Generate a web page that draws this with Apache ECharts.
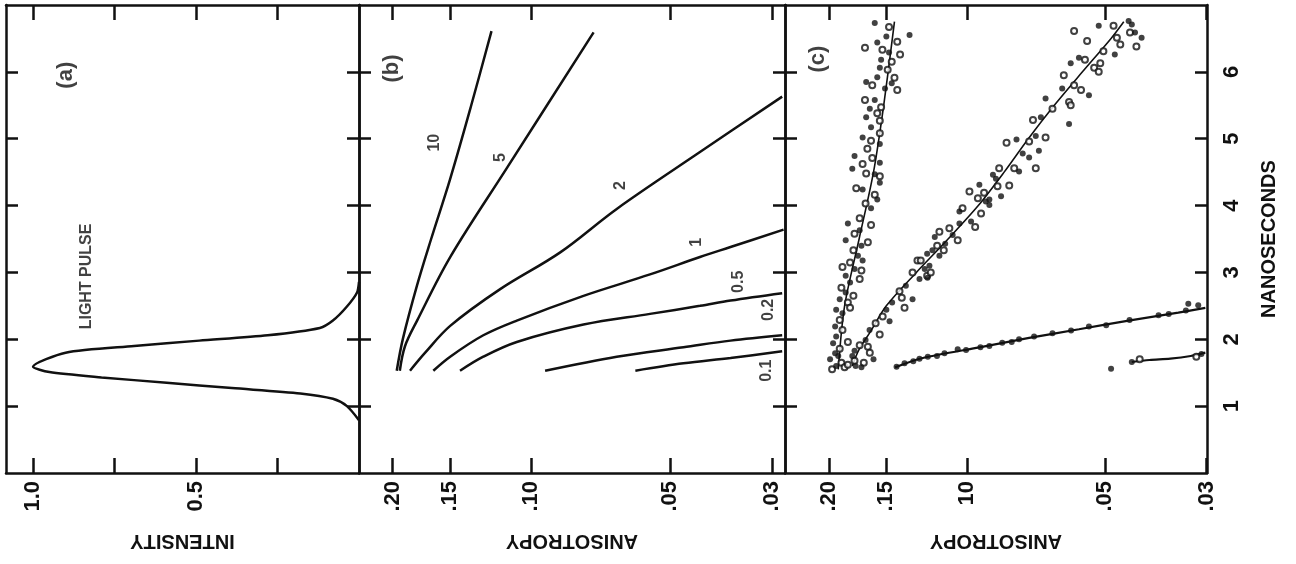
<!DOCTYPE html>
<html>
<head>
<meta charset="utf-8">
<script src="https://cdn.jsdelivr.net/npm/echarts@6/dist/echarts.min.js"></script>
<style>
html, body { margin: 0; padding: 0; background: #fff; }
#chart { width: 1296px; height: 564px; }
</style>
</head>
<body>
<div id="chart"></div>
<script>
// time axis (nanoseconds), shared by the three panels
var nsTicks = [1, 2, 3, 4, 5, 6];

// (a) light pulse: time / relative intensity
var pulseT = [0.79, 1.0, 1.11, 1.19, 1.27, 1.35, 1.43, 1.51, 1.59, 1.80, 1.90, 1.98, 2.06, 2.17, 2.28, 2.49, 2.70, 2.86];
var pulseI = [0, 0.037, 0.08, 0.18, 0.39, 0.59, 0.79, 0.95, 1.0, 0.90, 0.69, 0.49, 0.28, 0.12, 0.08, 0.037, 0.006, 0];
var intensityTicks = [0.25, 0.5, 0.75, 1.0];
var intensityLabels = [0.5, 1.0];

// anisotropy (log) ticks
var anisoTicks = [0.03, 0.05, 0.10, 0.15, 0.20];
var anisoLabelsB = ['.03', '.05', '.10', '.15', '.20'];
var anisoLabelsC = ['.03', '.05', '10', '.15', '.20'];

// (b) computed curves, one per correlation time
var curveNames = ['10', '5', '2', '1', '0.5', '0.2', '0.1'];
var curveT = [
  [1.53, 2.01, 2.81, 3.5, 4.4, 5.5, 6.61],
  [1.53, 1.9, 2.28, 3.23, 4.56, 6.59],
  [1.53, 1.8, 2.2, 2.75, 3.3, 3.95, 4.8, 5.63],
  [1.53, 1.74, 2.06, 2.28, 2.65, 2.97, 3.23, 3.38, 3.64],
  [1.53, 1.74, 1.96, 2.22, 2.38, 2.50, 2.58, 2.69],
  [1.53, 1.74, 1.88, 1.98, 2.06],
  [1.53, 1.64, 1.72, 1.82]
];
var curveA = [
  [0.196, 0.190, 0.177, 0.165, 0.150, 0.135, 0.122],
  [0.193, 0.188, 0.177, 0.150, 0.113, 0.0732],
  [0.1834, 0.170, 0.150, 0.1168, 0.0865, 0.0652, 0.0430, 0.0285],
  [0.1632, 0.150, 0.1271, 0.1075, 0.0770, 0.0552, 0.0430, 0.0369, 0.0283],
  [0.1428, 0.1271, 0.1075, 0.0770, 0.0552, 0.0430, 0.0369, 0.0285],
  [0.0933, 0.0652, 0.0467, 0.0369, 0.0285],
  [0.0594, 0.0467, 0.0369, 0.0285]
];

// (c) measured points [t, anisotropy] and fitted lines
var slowFilled = [[6.73,.159],[6.55,.1335],[6.53,.150],[6.44,.157],[6.29,.148],[6.18,.154],[6.06,.155],[5.92,.157],[5.85,.166],[5.75,.151],[5.83,.146],[5.58,.159],[5.45,.163],[5.32,.166],[5.17,.162],[5.02,.169],[4.92,.155],[4.74,.176],[4.64,.155],[4.55,.178],[4.47,.159],[4.34,.155],[4.24,.169],[4.09,.157],[3.96,.162],[3.73,.182],[3.63,.1715],[3.48,.184],[3.40,.170],[3.25,.173],[3.18,.169],[3.05,.176],[2.95,.184],[2.85,.180],[2.70,.184],[2.60,.1896],[2.44,.193],[2.39,.187],[2.19,.194],[2.04,.193],[1.94,.196],[1.79,.194],[1.60,.193],[1.70,.199],[1.75,.191]];
var slowOpen = [[6.67,.148],[6.45,.142],[6.36,.167],[6.33,.153],[6.26,.140],[6.15,.146],[6.03,.149],[5.91,.144],[5.80,.161],[5.73,.142],[5.58,.167],[5.47,.154],[5.38,.157],[5.27,.155],[5.08,.155],[4.97,.162],[4.85,.165],[4.71,.161],[4.62,.169],[4.48,.166],[4.44,.155],[4.26,.1745],[4.16,.159],[4.03,.1665],[3.81,.1715],[3.71,.162],[3.58,.176],[3.45,.1646],[3.33,.177],[3.15,.180],[3.08,.187],[3.03,.170],[2.90,.1715],[2.77,.188],[2.65,.177],[2.55,.182],[2.47,.180],[2.29,.1896],[2.14,.187],[1.96,.182],[1.86,.1896],[1.55,.197],[1.65,.188],[1.58,.185]];
var slowFit = [[1.55,.191],[2.5,.185],[3.5,.172],[4.5,.160],[5.5,.152],[6.75,.144]];

var midFilled = [[3.28,.1222],[3.05,.1237],[2.90,.127],[2.80,.136],[2.60,.1315],[2.55,.1457],[2.44,.150],[2.27,.1476],[2.14,.1632],[1.99,.1665],[1.83,.176],[1.60,.175],[1.70,.160],[1.75,.178],[1.58,.170],[4.31,.094],[4.14,.0843],[4.06,.091],[4.01,.0894],[3.91,.1039],[3.76,.098],[3.73,.1039],[3.56,.1075],[3.53,.1176],[3.43,.1116],[3.33,.119],[3.25,.1149],[3.10,.1208],[2.92,.1220],[5.04,.0708],[4.99,.078],[4.78,.0756],[4.72,.0732],[4.51,.077],[4.46,.0878],[4.40,.0865],[4.09,.0894],[6.69,.0516],[6.76,.0444],[6.71,.0437],[6.59,.0430],[6.51,.0416],[6.26,.0476],[6.21,.0570],[6.13,.0594],[5.75,.0620],[5.65,.0542],[5.60,.0674],[5.32,.0690],[5.22,.0599],[4.82,.0697]];
var midOpen = [[3.18,.1283],[3.00,.1315],[2.95,.1222],[2.72,.1404],[2.62,.1388],[2.47,.1369],[2.34,.1528],[2.24,.1583],[2.07,.1551],[1.91,.1715],[1.89,.1646],[1.65,.168],[1.62,.182],[1.80,.163],[1.68,.176],[4.29,.0858],[4.21,.0988],[4.11,.0947],[3.96,.1023],[3.88,.0932],[3.68,.096],[3.66,.1093],[3.61,.1149],[3.48,.1048],[3.40,.1162],[3.33,.1124],[3.18,.1262],[3.00,.1200],[5.28,.0718],[4.96,.0732],[4.94,.082],[4.56,.0789],[4.56,.0708],[4.56,.0851],[4.30,.0809],[4.19,.0918],[6.61,.0584],[6.69,.0479],[6.51,.0471],[6.59,.0441],[6.41,.0463],[6.38,.0427],[6.31,.0504],[6.46,.0547],[6.13,.0512],[6.06,.0528],[6.18,.0553],[6.00,.0516],[5.95,.0615],[5.80,.0584],[5.73,.0564],[5.55,.0599],[5.50,.0594],[5.45,.0651],[5.02,.0674]];
var midFit = [[1.6,.178],[1.85,.172],[2.1,.163],[2.5,.150],[3.0,.129],[3.5,.110],[4.0,.0945],[4.5,.083],[5.0,.0735],[5.5,.0645],[6.0,.056],[6.5,.0485],[6.75,.0455]];

var fastPoints = [[1.59,.1425],[1.64,.1369],[1.67,.131],[1.71,.127],[1.74,.1218],[1.75,.1163],[1.79,.112],[1.85,.1048],[1.84,.1005],[1.88,.0935],[1.90,.0894],[1.95,.0838],[1.96,.0799],[2.00,.077],[2.04,.0714],[2.09,.0651],[2.13,.0593],[2.19,.0542],[2.21,.0497],[2.29,.0442],[2.36,.0382],[2.38,.0363],[2.43,.0333],[2.53,.0329],[2.51,.0313]];
var fastFit = [[1.58,.1436],[1.72,.1249],[1.88,.094],[2.02,.0732],[2.15,.057],[2.28,.0444],[2.40,.0346],[2.47,.0302]];

var shortFilled = [[1.56,.0485],[1.66,.0437],[1.78,.0308]];
var shortOpen = [[1.70,.042],[1.74,.0316]];
var shortFit = [[1.66,.0437],[1.69,.040],[1.71,.036],[1.75,.0325],[1.80,.0302]];

var INK = '#111';
var FONT = 'Liberation Sans';

function flip(list) {
  return list.map(function (p) { return [p[1], p[0]]; });
}
function pickLabel(values, labels) {
  return function (v) {
    var best = 0;
    for (var i = 1; i < values.length; i++) {
      if (Math.abs(values[i] - v) < Math.abs(values[best] - v)) best = i;
    }
    return labels[best];
  };
}
function gridAt(left, width) {
  return { left: left, top: 5, width: width, height: 468, containLabel: false, outerBoundsMode: 'none' };
}
var lineW = 2.5;
function xAxisFor(gi, pos, opts) {
  var ax = {
    gridIndex: gi, position: pos, inverse: true,
    axisLine: { show: true, onZero: false, lineStyle: { color: INK, width: lineW } },
    axisTick: { show: true, inside: true, length: 15, lineStyle: { color: INK, width: lineW } },
    axisLabel: { show: false },
    splitLine: { show: false }
  };
  return Object.assign(ax, opts);
}
function yAxisFor(gi, pos, opts) {
  var ax = {
    type: 'value', gridIndex: gi, position: pos, min: 0, max: 7,
    axisLine: { show: true, onZero: false, lineStyle: { color: INK, width: lineW } },
    axisTick: { show: true, inside: true, length: 12, customValues: nsTicks, lineStyle: { color: INK, width: lineW } },
    axisLabel: { show: false },
    splitLine: { show: false }
  };
  return Object.assign(ax, opts);
}
var tickLabelStyle = { color: INK, fontFamily: FONT, fontWeight: 'bold', fontSize: 22 };
var nameStyle = { color: INK, fontFamily: FONT, fontWeight: 'bold', fontSize: 20 };

function intensityAxis(pos, withLabels) {
  var o = {
    type: 'value', min: 0, max: 1.083,
    axisTick: { show: true, inside: true, length: 15, customValues: intensityTicks, lineStyle: { color: INK, width: lineW } }
  };
  if (withLabels) {
    o.axisLabel = Object.assign({ show: true, rotate: 90, margin: 8, customValues: intensityLabels,
      formatter: function (v) { return v.toFixed(1); } }, tickLabelStyle);
    o.name = 'INTENSITY';
    o.nameLocation = 'middle';
    o.nameRotate = 180;
    o.nameGap = 58;
    o.nameTextStyle = nameStyle;
  }
  return xAxisFor(0, pos, o);
}
function anisoAxis(gi, pos, minV, maxV, labels) {
  var o = {
    type: 'log', logBase: 10, min: minV, max: maxV,
    axisTick: { show: true, inside: true, length: 15, customValues: anisoTicks, lineStyle: { color: INK, width: lineW } }
  };
  if (labels) {
    o.axisLabel = Object.assign({ show: true, rotate: 90, margin: 8, customValues: anisoTicks,
      formatter: pickLabel(anisoTicks, labels) }, tickLabelStyle);
    o.name = 'ANISOTROPY';
    o.nameLocation = 'middle';
    o.nameRotate = 180;
    o.nameGap = 58;
    o.nameTextStyle = nameStyle;
  }
  return xAxisFor(gi, pos, o);
}

var series = [];
function addLine(xi, pts, width, smooth) {
  series.push({
    type: 'line', xAxisIndex: xi, yAxisIndex: xi, data: pts, showSymbol: false, smooth: smooth,
    lineStyle: { color: INK, width: width }, silent: true, z: 3
  });
}
function addDots(xi, pts, open, size) {
  series.push({
    type: 'scatter', xAxisIndex: xi, yAxisIndex: xi, data: pts,
    symbol: open ? 'emptyCircle' : 'circle', symbolSize: size,
    itemStyle: open ? { color: INK, borderColor: INK, borderWidth: 1.4 } : { color: INK },
    silent: true, z: 4
  });
}
function addTexts(xi, items, size) {
  series.push({
    type: 'scatter', xAxisIndex: xi, yAxisIndex: xi, symbolSize: 0, silent: true, z: 6,
    data: items.map(function (it) { return { name: it[0], value: [it[1], it[2]] }; }),
    label: { show: true, formatter: '{b}', position: 'inside', rotate: 90, color: INK,
      fontFamily: FONT, fontWeight: 'bold', fontSize: size }
  });
}

// (a)
addLine(0, pulseI.map(function (v, i) { return [v, pulseT[i]]; }), lineW, 0.25);
addTexts(0, [['(a)', 0.898, 5.95]], 22);
addTexts(0, [['LIGHT PULSE', 0.836, 2.94]], 16);

// (b)
curveNames.forEach(function (n, k) {
  addLine(2, curveA[k].map(function (v, i) { return [v, curveT[k][i]]; }), lineW, 0.35);
});
addTexts(2, [['(b)', 0.2010, 6.05]], 22);
addTexts(2, [
  [curveNames[0], 0.1618, 4.94], [curveNames[1], 0.1168, 4.72], [curveNames[2], 0.0641, 4.30],
  [curveNames[3], 0.0437, 3.45], [curveNames[4], 0.0355, 2.86], [curveNames[5], 0.0305, 2.44],
  [curveNames[6], 0.0308, 1.53]
], 16);

// (c)
addLine(4, flip(slowFit), 1.6, 0.3);
addLine(4, flip(midFit), 1.6, 0.3);
addLine(4, flip(fastFit), 2.2, 0.3);
addLine(4, flip(shortFit), 2.2, 0.3);
addDots(4, flip(slowOpen), true, 6);
addDots(4, flip(slowFilled), false, 6);
addDots(4, flip(midOpen), true, 6);
addDots(4, flip(midFilled), false, 6);
addDots(4, flip(fastPoints), false, 6);
addDots(4, flip(shortOpen), true, 6);
addDots(4, flip(shortFilled), false, 6);
addTexts(4, [['(c)', 0.2113, 6.19]], 22);

var chart = echarts.init(document.getElementById('chart'));
chart.setOption({
  animation: false,
  backgroundColor: '#fff',
  textStyle: { fontFamily: FONT, color: INK },
  grid: [gridAt(6, 353), gridAt(359, 426), gridAt(785, 422)],
  xAxis: [
    intensityAxis('bottom', true),
    intensityAxis('top', false),
    anisoAxis(1, 'bottom', 0.0281, 0.2367, anisoLabelsB),
    anisoAxis(1, 'top', 0.0281, 0.2367, null),
    anisoAxis(2, 'bottom', 0.02995, 0.2496, anisoLabelsC),
    anisoAxis(2, 'top', 0.02995, 0.2496, null)
  ],
  yAxis: [
    yAxisFor(0, 'left', {}),
    yAxisFor(0, 'right', {}),
    yAxisFor(1, 'left', {}),
    yAxisFor(1, 'right', {}),
    yAxisFor(2, 'left', {}),
    yAxisFor(2, 'right', {
      axisLabel: Object.assign({ show: true, rotate: 90, margin: 14, customValues: nsTicks }, tickLabelStyle),
      name: 'NANOSECONDS', nameLocation: 'middle', nameRotate: 90, nameGap: 52,
      nameTextStyle: nameStyle
    })
  ],
  series: series
});
</script>
</body>
</html>
